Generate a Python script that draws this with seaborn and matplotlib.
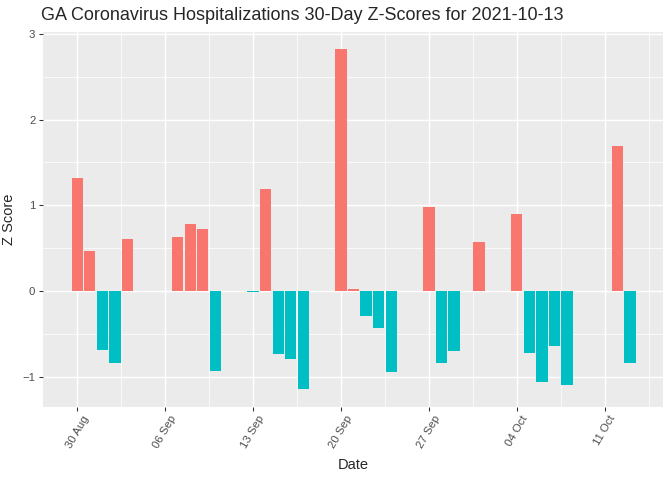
import datetime as dt
import matplotlib
matplotlib.use("Agg")
import matplotlib.pyplot as plt
import matplotlib.dates as mdates
from matplotlib.ticker import MultipleLocator
import numpy as np
import pandas as pd
import seaborn as sns

# data (weekdays only, 30 Aug - 13 Oct 2021)
dates = ["2021-08-30", "2021-08-31", "2021-09-01", "2021-09-02", "2021-09-03",
         "2021-09-07", "2021-09-08", "2021-09-09", "2021-09-10",
         "2021-09-13", "2021-09-14", "2021-09-15", "2021-09-16", "2021-09-17",
         "2021-09-20", "2021-09-21", "2021-09-22", "2021-09-23", "2021-09-24",
         "2021-09-27", "2021-09-28", "2021-09-29", "2021-10-01",
         "2021-10-04", "2021-10-05", "2021-10-06", "2021-10-07", "2021-10-08",
         "2021-10-12", "2021-10-13"]
z_scores = [1.32, 0.46, -0.69, -0.84, 0.60,
            0.63, 0.78, 0.72, -0.94,
            -0.01, 1.19, -0.74, -0.79, -1.15,
            2.82, 0.02, -0.29, -0.43, -0.95,
            0.98, -0.84, -0.70, 0.57,
            0.90, -0.73, -1.06, -0.64, -1.10,
            1.69, -0.84]

df = pd.DataFrame({"date": pd.to_datetime(dates), "z": z_scores})
df["day"] = mdates.date2num(df["date"])
df["sign"] = np.where(df["z"] >= 0, "pos", "neg")

sns.set_theme(style="darkgrid", rc={
    "axes.facecolor": "#EBEBEB",
    "grid.color": "white",
    "axes.edgecolor": "#EBEBEB",
})
plt.rcParams["font.family"] = ["Liberation Sans", "DejaVu Sans"]

fig, ax = plt.subplots(figsize=(7, 5), dpi=96)
fig.subplots_adjust(left=0.0635, right=0.987, top=0.933, bottom=0.153)

sns.barplot(data=df, x="day", y="z", hue="sign", native_scale=True,
            palette={"pos": "#F8766D", "neg": "#00BFC4"}, dodge=False,
            width=0.9, legend=False, saturation=1, linewidth=0, ax=ax)

start = mdates.date2num(dt.datetime(2021, 8, 30))
ax.set_xlim(start - 2.75, start + 46.66)
ax.set_ylim(-1.35, 3.02)

ax.xaxis.set_major_locator(MultipleLocator(7, offset=start % 7))
ax.xaxis.set_minor_locator(MultipleLocator(7, offset=(start + 3.5) % 7))
ax.xaxis.set_major_formatter(mdates.DateFormatter("%d %b"))
ax.yaxis.set_major_locator(MultipleLocator(1))
ax.yaxis.set_minor_locator(MultipleLocator(0.5))
ax.grid(which="major", color="white", linewidth=1.1)
ax.grid(which="minor", color="white", linewidth=0.55)
ax.set_axisbelow(True)
for s in ax.spines.values():
    s.set_visible(False)

ax.tick_params(axis="both", which="major", length=3, width=0.8, color="#333333",
               labelsize=8.5, labelcolor="#4D4D4D", pad=2.5, bottom=True, left=True)
ax.tick_params(axis="both", which="minor", length=0)
plt.setp(ax.get_xticklabels(), rotation=60, ha="center", va="top")

ax.set_xlabel("Date", fontsize=11, labelpad=6)
ax.set_ylabel("Z Score", fontsize=11, labelpad=5)
ax.set_title("GA Coronavirus Hospitalizations 30-Day Z-Scores for 2021-10-13",
             loc="left", fontsize=13.5, pad=9, x=-0.003)

fig.savefig("out.png", dpi=96)
